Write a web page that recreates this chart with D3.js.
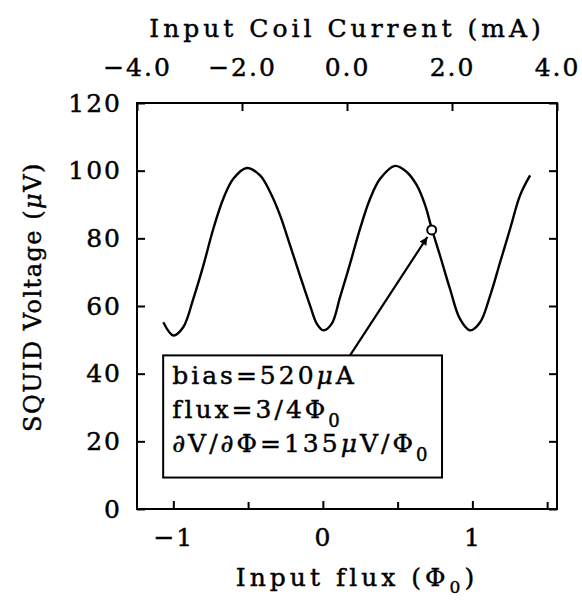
<!DOCTYPE html>
<html>
<head>
<meta charset="utf-8">
<script src="https://cdn.jsdelivr.net/npm/d3@7"></script>
<style>
  body { margin: 0; background: #fff; }
  text { font-family: "DejaVu Serif", serif; fill: #000; stroke: #000; stroke-width: 0.45px; }
</style>
</head>
<body>
<div id="chart"></div>
<script>
// data
const fluxValues = [-1.067, -1.000, -0.933, -0.866, -0.799, -0.732, -0.666, -0.599, -0.509, -0.420,
  -0.353, -0.286, -0.219, -0.153, -0.086, -0.041, 0.003, 0.060, 0.115, 0.182,
  0.249, 0.316, 0.383, 0.483, 0.561, 0.628, 0.684, 0.728, 0.783, 0.850,
  0.917, 0.985, 1.052, 1.119, 1.186, 1.253, 1.319, 1.386];
const voltageValues = [55.2, 51.3, 53.8, 62.2, 72.0, 82.9, 91.7, 97.6, 100.8, 98.6,
  93.7, 86.8, 77.9, 69.0, 60.2, 54.8, 52.8, 54.8, 62.6, 72.5,
  82.9, 91.7, 97.6, 101.4, 99.6, 95.7, 89.8, 82.9, 75.0, 65.1,
  56.2, 52.8, 55.2, 63.1, 73.0, 82.9, 92.7, 98.6];

const voltageTicks = [0, 20, 40, 60, 80, 100, 120];
const fluxMajorTicks = [-1, 0, 1];
const fluxMinorTicks = [-0.5, 0.5, 1.5];
const currentTicks = [-4, -2, 0, 2, 4];

// operating point and annotation
const markerPoint = [0.728, 82.5];
const arrowFrom = [0.182, 45.4];
const arrowTo = [0.699, 80.4];
const boxFlux = [-1.068, 0.797];
const boxVoltage = [9.3, 45.4];

// set the dimensions and margins of the graph
const margin = {top: 103, right: 25, bottom: 91, left: 137},
  width = 582 - margin.left - margin.right,
  height = 600 - margin.top - margin.bottom;

const root = d3.select("#chart")
.append("svg")
  .attr("width", 582)
  .attr("height", 600);

const svg = root.append("g")
  .attr("transform", "translate(" + margin.left + "," + margin.top + ")");

// scales
const x = d3.scaleLinear().domain([-1.243, 1.566]).range([0, width]);
const y = d3.scaleLinear().domain([0, 120]).range([height, 0]);
const xTop = d3.scaleLinear().domain([-4, 4]).range([0, width]);

const fmt1 = d3.format(".1f");

// left axis
const yAxis = svg.append("g")
  .call(d3.axisLeft(y).tickValues(voltageTicks).tickSize(-8).tickPadding(15));

// right axis, ticks only
svg.append("g")
  .attr("transform", "translate(" + width + ",0)")
  .call(d3.axisRight(y).tickValues(voltageTicks).tickSize(-8).tickFormat(""));

// bottom axis
const xAxis = svg.append("g")
  .attr("transform", "translate(0," + height + ")")
  .call(d3.axisBottom(x).tickValues(fluxMajorTicks).tickSize(-8).tickPadding(19)
    .tickFormat(d3.format("d")));
svg.append("g")
  .attr("transform", "translate(0," + height + ")")
  .call(d3.axisBottom(x).tickValues(fluxMinorTicks).tickSize(-7).tickFormat(""));

// top axis (input coil current)
const topAxis = svg.append("g")
  .call(d3.axisTop(xTop).tickValues(currentTicks).tickSize(-8).tickPadding(27)
    .tickFormat(d => fmt1(d)));

svg.selectAll(".domain").remove();
svg.selectAll(".tick line").attr("stroke", "#000").attr("stroke-width", 2);
svg.selectAll(".tick text")
  .style("font-size", "25px")
  .style("letter-spacing", "2px");

// frame
svg.append("rect")
  .attr("width", width)
  .attr("height", height)
  .attr("fill", "none")
  .attr("stroke", "#000")
  .attr("stroke-width", 2);

// the V-phi curve
const line = d3.line()
  .x(i => x(fluxValues[i]))
  .y(i => y(voltageValues[i]))
  .curve(d3.curveCatmullRom.alpha(0.5));

svg.append("path")
  .datum(d3.range(fluxValues.length))
  .attr("d", line)
  .attr("fill", "none")
  .attr("stroke", "#000")
  .attr("stroke-width", 2.4);

// marker circle
svg.append("circle")
  .attr("cx", x(markerPoint[0]))
  .attr("cy", y(markerPoint[1]))
  .attr("r", 4.5)
  .attr("fill", "#fff")
  .attr("stroke", "#000")
  .attr("stroke-width", 2);

// arrow
root.append("defs").append("marker")
  .attr("id", "head")
  .attr("viewBox", "0 0 10 10")
  .attr("refX", 10).attr("refY", 5)
  .attr("markerWidth", 18).attr("markerHeight", 8)
  .attr("markerUnits", "userSpaceOnUse")
  .attr("orient", "auto")
.append("path")
  .attr("d", "M0,0 L10,5 L0,10 z")
  .attr("fill", "#000");

svg.append("line")
  .attr("x1", x(arrowFrom[0])).attr("y1", y(arrowFrom[1]))
  .attr("x2", x(arrowTo[0])).attr("y2", y(arrowTo[1]))
  .attr("stroke", "#000")
  .attr("stroke-width", 2.2)
  .attr("marker-end", "url(#head)");

// annotation box
const bx = x(boxFlux[0]), bx2 = x(boxFlux[1]);
const by = y(boxVoltage[1]), by2 = y(boxVoltage[0]);
svg.append("rect")
  .attr("x", bx).attr("y", by)
  .attr("width", bx2 - bx).attr("height", by2 - by)
  .attr("fill", "#fff")
  .attr("stroke", "#000")
  .attr("stroke-width", 2);

const note = svg.append("text")
  .attr("x", bx + 9)
  .style("font-size", "25px")
  .style("letter-spacing", "3px");

// line 1
const l1 = note.append("tspan").attr("x", bx + 9).attr("y", by + 29);
l1.append("tspan").text("bias=520");
l1.append("tspan").style("font-style", "italic").text("μ");
l1.append("tspan").text("A");

// line 2
const l2 = note.append("tspan").attr("x", bx + 9).attr("y", by + 63);
l2.append("tspan").text("flux=3/4Φ");
l2.append("tspan").attr("dy", 9).style("font-size", "18px").text("0");

// line 3
const l3 = note.append("tspan").attr("x", bx + 9).attr("y", by + 97);
l3.append("tspan").text("∂V/∂Φ=135");
l3.append("tspan").style("font-style", "italic").text("μ");
l3.append("tspan").text("V/Φ");
l3.append("tspan").attr("dy", 9).style("font-size", "18px").text("0");

// axis titles
root.append("text")
  .attr("x", 347)
  .attr("y", 37)
  .attr("text-anchor", "middle")
  .style("font-size", "25px")
  .style("letter-spacing", "4px")
  .text("Input Coil Current (mA)");

const xt = root.append("text")
  .attr("x", 357)
  .attr("y", 586)
  .attr("text-anchor", "middle")
  .style("font-size", "25px")
  .style("letter-spacing", "4px");
xt.append("tspan").text("Input flux (Φ");
xt.append("tspan").attr("dy", 7).style("font-size", "17px").text("0");
xt.append("tspan").attr("dy", -7).text(")");

const yt = root.append("text")
  .attr("transform", "translate(41,297) rotate(-90)")
  .attr("text-anchor", "middle")
  .style("font-size", "24px")
  .style("letter-spacing", "1.5px");
yt.append("tspan").text("SQUID Voltage (");
yt.append("tspan").style("font-style", "italic").text("μ");
yt.append("tspan").text("V)");
</script>
</body>
</html>
